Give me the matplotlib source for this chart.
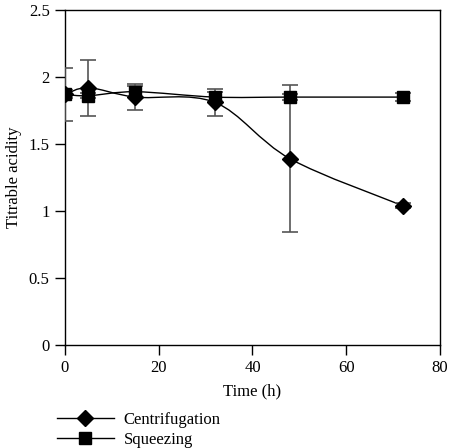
import numpy as np
import matplotlib.pyplot as plt
from matplotlib.path import Path
from matplotlib.patches import PathPatch
from matplotlib.lines import Line2D

plt.rcParams['font.family'] = ['Liberation Serif', 'DejaVu Serif']

time = [0, 5, 15, 32, 48, 72]
centrifugation = [1.87, 1.92, 1.85, 1.81, 1.39, 1.04]
centrifugation_err = [0.20, 0.21, 0.10, 0.10, 0.55, 0.02]
squeezing = [1.87, 1.86, 1.89, 1.85, 1.85, 1.85]
squeezing_err = [0.03, 0.02, 0.04, 0.04, 0.02, 0.03]


def smooth_path(x, y):
    # Catmull-Rom style curve through the points, drawn as cubic beziers
    x = np.asarray(x, float)
    y = np.asarray(y, float)
    verts = [(x[0], y[0])]
    codes = [Path.MOVETO]
    n = len(x)
    for i in range(n - 1):
        i0 = max(i - 1, 0)
        i3 = min(i + 2, n - 1)
        c1 = (x[i] + (x[i + 1] - x[i0]) / 6, y[i] + (y[i + 1] - y[i0]) / 6)
        c2 = (x[i + 1] - (x[i3] - x[i]) / 6, y[i + 1] - (y[i3] - y[i]) / 6)
        verts += [c1, c2, (x[i + 1], y[i + 1])]
        codes += [Path.CURVE4] * 3
    return Path(verts, codes)


fig = plt.figure(figsize=(4.5, 4.48), dpi=100)
ax = fig.add_axes([0.1444, 0.2299, 0.8334, 0.7478])

for yv, err, mk, ms in [(centrifugation, centrifugation_err, 'D', 8),
                        (squeezing, squeezing_err, 's', 8.5)]:
    ax.add_patch(PathPatch(smooth_path(time, yv), fill=False, lw=1, color='black', zorder=2))
    ax.errorbar(time, yv, yerr=err, fmt='none', ecolor='#555555', elinewidth=1.2,
                capsize=6, capthick=1.2, zorder=3)
    ax.plot(time, yv, linestyle='none', marker=mk, ms=ms, color='black', zorder=4)

ax.set_xlim(0, 80)
ax.set_ylim(0, 2.5)
ax.set_xticks([0, 20, 40, 60, 80])
ax.set_yticks([0, 0.5, 1, 1.5, 2, 2.5])
ax.set_yticklabels(['0', '0.5', '1', '1.5', '2', '2.5'])
ax.tick_params(direction='out', length=7, width=1, labelsize=12, pad=4)
for s in ax.spines.values():
    s.set_linewidth(1)
ax.set_xlabel('Time (h)', fontsize=12, labelpad=5)
ax.set_ylabel('Titrable acidity', fontsize=12, labelpad=5)

handles = [Line2D([], [], color='black', lw=1, marker='D', ms=8),
           Line2D([], [], color='black', lw=1, marker='s', ms=8.5)]
fig.legend(handles, ['Centrifugation', 'Squeezing'], loc='upper left',
           bbox_to_anchor=(0.127, 0.08), frameon=False, fontsize=12,
           handlelength=3.4, handletextpad=0.6, labelspacing=0.25,
           borderpad=0, borderaxespad=0)

fig.savefig('out.png', dpi=100)
